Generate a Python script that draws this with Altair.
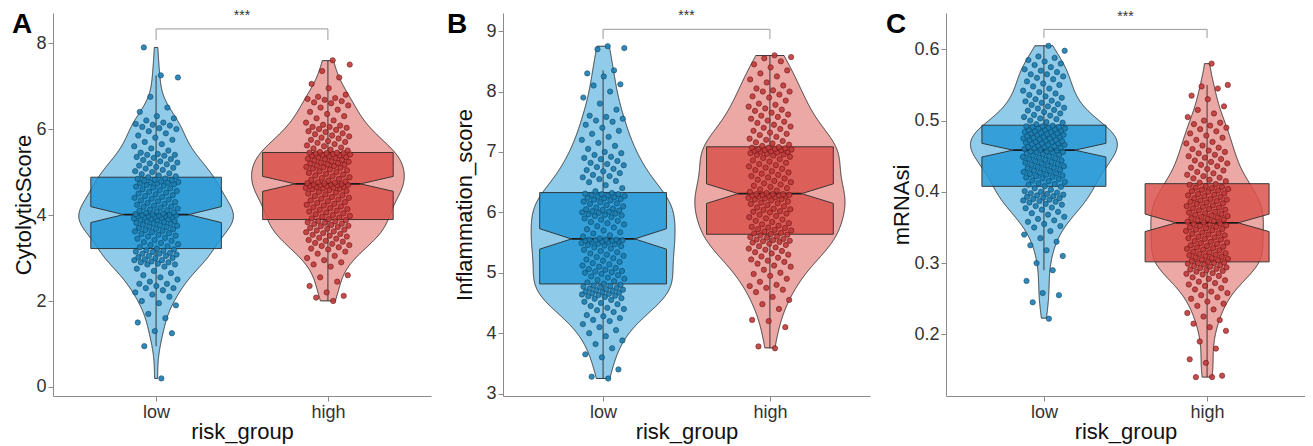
import altair as alt
import pandas as pd
import numpy as np

FONT = "Liberation Sans"
CATEGORIES = ["low", "high"]
CAT_POS = [1, 2]

# ---------- values ----------
A_LOW = [0.2, 0.95, 1.25, 1.3, 1.5, 1.6, 1.7, 1.9, 1.95,
         2.0, 2.1, 2.15, 2.2, 2.25, 2.3, 2.3, 2.35, 2.4, 2.4,
         2.45, 2.5, 2.55, 2.6, 2.65, 2.7, 2.75, 2.8, 2.85, 2.85,
         2.87, 2.9, 2.9, 2.92, 2.95, 2.95, 2.97, 3.0, 3.0, 3.02,
         3.05, 3.05, 3.08, 3.1, 3.1, 3.12, 3.14, 3.15, 3.17, 3.18, 3.2,
         3.22, 3.25, 3.27, 3.3, 3.32, 3.35, 3.37, 3.4, 3.42, 3.45,
         3.47, 3.5, 3.52, 3.54, 3.56, 3.58, 3.6, 3.62, 3.63, 3.65,
         3.67, 3.68, 3.7, 3.72, 3.73, 3.75, 3.76, 3.78, 3.8, 3.81,
         3.82, 3.84, 3.85, 3.86, 3.88, 3.89, 3.9, 3.91, 3.92, 3.93,
         3.94, 3.95, 3.96, 3.97, 3.98, 3.98, 3.99, 3.99, 4.0, 4.0,
         4.01, 4.02, 4.03, 4.05, 4.06, 4.08, 4.1, 4.11, 4.13, 4.15,
         4.17, 4.19, 4.2, 4.22, 4.24, 4.26, 4.28, 4.3, 4.32, 4.34,
         4.36, 4.38, 4.4, 4.42, 4.44, 4.46, 4.48, 4.5, 4.52, 4.54,
         4.56, 4.58, 4.6, 4.62, 4.64, 4.66, 4.68, 4.7, 4.72, 4.73,
         4.74, 4.75, 4.76, 4.77, 4.78, 4.8, 4.81, 4.82, 4.84, 4.85,
         4.88, 4.9, 4.92, 4.95, 4.97, 5.0, 5.02, 5.05, 5.08, 5.1,
         5.12, 5.15, 5.18, 5.2, 5.22, 5.25, 5.28, 5.3, 5.33, 5.35,
         5.38, 5.4, 5.4, 5.42, 5.45, 5.5, 5.55, 5.6, 5.65, 5.7,
         5.75, 5.8, 5.85, 5.9, 5.95, 6.0, 6.02, 6.05, 6.08, 6.1,
         6.12, 6.15, 6.2, 6.25, 6.3, 6.4, 6.5, 6.75, 7.2, 7.25, 7.9]

A_HIGH = [2.0, 2.08, 2.12, 2.2, 2.35, 2.45, 2.55, 2.6, 2.8, 2.85,
          2.9, 2.95, 3.0, 3.05, 3.1, 3.15, 3.2, 3.22, 3.25, 3.28,
          3.3, 3.33, 3.35, 3.38, 3.4, 3.42, 3.45, 3.47, 3.5, 3.52,
          3.54, 3.56, 3.58, 3.6, 3.62, 3.64, 3.66, 3.68, 3.7, 3.72,
          3.74, 3.75, 3.77, 3.79, 3.8, 3.82, 3.83, 3.85, 3.86, 3.88,
          3.9, 3.92, 3.94, 3.96, 3.98, 4.0, 4.02, 4.04, 4.06, 4.08,
          4.1, 4.12, 4.14, 4.16, 4.18, 4.2, 4.22, 4.24, 4.26, 4.28,
          4.3, 4.32, 4.34, 4.36, 4.38, 4.4, 4.42, 4.44, 4.46, 4.48,
          4.5, 4.52, 4.54, 4.56, 4.58, 4.6, 4.61, 4.62, 4.63, 4.64,
          4.65, 4.66, 4.67, 4.68, 4.69, 4.7, 4.7, 4.71, 4.71, 4.72,
          4.73, 4.74, 4.75, 4.76, 4.78, 4.8, 4.82, 4.84, 4.86, 4.88,
          4.9, 4.92, 4.94, 4.96, 4.98, 5.0, 5.02, 5.04, 5.06, 5.08,
          5.1, 5.11, 5.12, 5.14, 5.15, 5.17, 5.18, 5.2, 5.21, 5.22,
          5.24, 5.25, 5.27, 5.28, 5.3, 5.31, 5.33, 5.34, 5.35, 5.37,
          5.38, 5.39, 5.4, 5.41, 5.42, 5.43, 5.44, 5.44, 5.45, 5.45,
          5.47, 5.5, 5.52, 5.55, 5.57, 5.6, 5.62, 5.65, 5.68, 5.7,
          5.72, 5.75, 5.78, 5.8, 5.83, 5.85, 5.88, 5.9, 5.93, 5.95,
          5.98, 6.0, 6.03, 6.05, 6.05, 6.08, 6.1, 6.15, 6.2, 6.25,
          6.3, 6.35, 6.4, 6.45, 6.5, 6.55, 6.6, 6.62, 6.65, 6.68,
          6.7, 6.72, 6.75, 6.8, 6.95, 7.05, 7.2, 7.35, 7.5, 7.6]

B_LOW = [3.25, 3.28, 3.4, 3.6, 3.65, 3.75, 3.82, 3.88, 3.95, 4.0,
         4.05, 4.1, 4.15, 4.2, 4.22, 4.25, 4.28, 4.3, 4.35, 4.38,
         4.4, 4.42, 4.45, 4.48, 4.5, 4.52, 4.55, 4.57, 4.58, 4.6,
         4.61, 4.62, 4.63, 4.64, 4.65, 4.66, 4.67, 4.68, 4.69, 4.7,
         4.71, 4.72, 4.73, 4.74, 4.75, 4.76, 4.77, 4.78, 4.79, 4.8,
         4.82, 4.84, 4.86, 4.88, 4.9, 4.92, 4.94, 4.96, 4.98, 5.0,
         5.01, 5.02, 5.03, 5.05, 5.06, 5.08, 5.1, 5.12, 5.14, 5.16,
         5.18, 5.2, 5.22, 5.24, 5.26, 5.28, 5.3, 5.32, 5.34, 5.36,
         5.38, 5.4, 5.42, 5.44, 5.45, 5.46, 5.47, 5.48, 5.49, 5.5,
         5.51, 5.52, 5.52, 5.53, 5.53, 5.54, 5.54, 5.55, 5.55, 5.55,
         5.57, 5.6, 5.62, 5.65, 5.67, 5.7, 5.72, 5.75, 5.77, 5.8,
         5.82, 5.84, 5.86, 5.88, 5.9, 5.92, 5.94, 5.95, 5.96, 5.97,
         5.98, 5.99, 6.0, 6.01, 6.02, 6.03, 6.04, 6.05, 6.06, 6.08,
         6.1, 6.12, 6.14, 6.15, 6.17, 6.18, 6.2, 6.21, 6.22, 6.23,
         6.24, 6.25, 6.26, 6.27, 6.28, 6.29, 6.3, 6.3, 6.31, 6.32,
         6.35, 6.4, 6.45, 6.5, 6.52, 6.55, 6.58, 6.6, 6.62, 6.65,
         6.68, 6.7, 6.72, 6.75, 6.78, 6.8, 6.82, 6.85, 6.88, 6.9,
         6.92, 6.95, 6.98, 7.0, 7.05, 7.1, 7.15, 7.2, 7.25, 7.3,
         7.35, 7.4, 7.45, 7.5, 7.52, 7.55, 7.58, 7.6, 7.7, 7.8,
         7.9, 8.0, 8.1, 8.12, 8.25, 8.3, 8.35, 8.7, 8.72, 8.75]

B_HIGH = [3.75, 3.78, 4.1, 4.2, 4.22, 4.4, 4.48, 4.55, 4.6, 4.68,
          4.72, 4.75, 4.78, 4.8, 4.85, 4.9, 4.95, 4.98, 5.0, 5.05,
          5.1, 5.12, 5.15, 5.18, 5.2, 5.22, 5.25, 5.27, 5.3, 5.32,
          5.34, 5.36, 5.38, 5.4, 5.42, 5.44, 5.46, 5.48, 5.5, 5.51,
          5.52, 5.53, 5.54, 5.55, 5.56, 5.58, 5.59, 5.6, 5.62, 5.63,
          5.64, 5.65, 5.66, 5.68, 5.7, 5.71, 5.72, 5.74, 5.75, 5.76,
          5.78, 5.8, 5.82, 5.84, 5.86, 5.88, 5.9, 5.92, 5.94, 5.96,
          5.98, 6.0, 6.01, 6.02, 6.04, 6.05, 6.06, 6.08, 6.1, 6.12,
          6.14, 6.15, 6.16, 6.18, 6.2, 6.21, 6.22, 6.23, 6.24, 6.25,
          6.26, 6.27, 6.27, 6.28, 6.28, 6.29, 6.29, 6.3, 6.3, 6.3,
          6.32, 6.34, 6.36, 6.38, 6.4, 6.42, 6.44, 6.46, 6.48, 6.5,
          6.52, 6.54, 6.56, 6.58, 6.6, 6.62, 6.64, 6.66, 6.68, 6.7,
          6.72, 6.74, 6.76, 6.78, 6.8, 6.82, 6.84, 6.86, 6.88, 6.9,
          6.92, 6.94, 6.95, 6.96, 6.97, 6.98, 6.99, 7.0, 7.0, 7.01,
          7.02, 7.03, 7.03, 7.04, 7.05, 7.05, 7.06, 7.07, 7.07, 7.08,
          7.1, 7.12, 7.14, 7.16, 7.18, 7.2, 7.22, 7.25, 7.28, 7.3,
          7.32, 7.35, 7.38, 7.4, 7.42, 7.45, 7.48, 7.5, 7.52, 7.55,
          7.58, 7.6, 7.62, 7.65, 7.68, 7.7, 7.72, 7.75, 7.78, 7.8,
          7.85, 7.9, 7.92, 7.95, 8.0, 8.0, 8.02, 8.05, 8.1, 8.15,
          8.2, 8.25, 8.3, 8.35, 8.4, 8.45, 8.5, 8.55, 8.57, 8.6]

C_LOW = [0.222, 0.245, 0.255, 0.258, 0.275, 0.29, 0.3, 0.31, 0.318, 0.325,
         0.33, 0.335, 0.34, 0.345, 0.35, 0.352, 0.355, 0.358, 0.36, 0.362,
         0.365, 0.368, 0.37, 0.372, 0.375, 0.377, 0.378, 0.38, 0.382, 0.383,
         0.385, 0.386, 0.387, 0.388, 0.389, 0.39, 0.391, 0.392, 0.393, 0.394,
         0.395, 0.396, 0.397, 0.398, 0.399, 0.4, 0.401, 0.403, 0.405, 0.407,
         0.408, 0.41, 0.411, 0.412, 0.414, 0.415, 0.416, 0.418, 0.419, 0.42,
         0.421, 0.422, 0.423, 0.424, 0.425, 0.426, 0.427, 0.428, 0.429, 0.43,
         0.431, 0.432, 0.433, 0.434, 0.435, 0.436, 0.437, 0.438, 0.439, 0.44,
         0.441, 0.442, 0.443, 0.444, 0.445, 0.446, 0.447, 0.448, 0.449, 0.45,
         0.451, 0.452, 0.453, 0.454, 0.455, 0.456, 0.456, 0.457, 0.457, 0.458,
         0.459, 0.46, 0.46, 0.461, 0.462, 0.463, 0.463, 0.464, 0.465, 0.466,
         0.466, 0.467, 0.468, 0.468, 0.469, 0.47, 0.47, 0.471, 0.472, 0.473,
         0.473, 0.474, 0.475, 0.475, 0.476, 0.477, 0.477, 0.478, 0.479, 0.48,
         0.48, 0.481, 0.482, 0.482, 0.483, 0.484, 0.484, 0.485, 0.486, 0.487,
         0.487, 0.488, 0.489, 0.489, 0.49, 0.491, 0.491, 0.492, 0.492, 0.493,
         0.495, 0.497, 0.498, 0.5, 0.502, 0.503, 0.505, 0.507, 0.508, 0.51,
         0.512, 0.514, 0.515, 0.517, 0.518, 0.52, 0.522, 0.523, 0.525, 0.527,
         0.528, 0.53, 0.532, 0.534, 0.536, 0.538, 0.54, 0.542, 0.545, 0.548,
         0.55, 0.552, 0.555, 0.558, 0.56, 0.562, 0.565, 0.565, 0.568, 0.57,
         0.572, 0.575, 0.578, 0.58, 0.583, 0.585, 0.588, 0.59, 0.598, 0.605]

C_HIGH = [0.14, 0.14, 0.142, 0.16, 0.165, 0.18, 0.19, 0.205, 0.21, 0.215,
          0.22, 0.225, 0.23, 0.235, 0.24, 0.243, 0.246, 0.25, 0.252, 0.255,
          0.258, 0.26, 0.263, 0.265, 0.268, 0.27, 0.272, 0.274, 0.276, 0.278,
          0.28, 0.282, 0.284, 0.285, 0.286, 0.288, 0.289, 0.29, 0.291, 0.292,
          0.293, 0.294, 0.295, 0.296, 0.297, 0.298, 0.299, 0.3, 0.3, 0.301,
          0.302, 0.303, 0.304, 0.305, 0.306, 0.307, 0.308, 0.309, 0.31, 0.311,
          0.312, 0.313, 0.314, 0.315, 0.316, 0.318, 0.319, 0.32, 0.321, 0.322,
          0.323, 0.324, 0.325, 0.327, 0.328, 0.329, 0.33, 0.331, 0.333, 0.334,
          0.335, 0.336, 0.337, 0.339, 0.34, 0.341, 0.342, 0.343, 0.345, 0.346,
          0.347, 0.348, 0.349, 0.35, 0.351, 0.352, 0.353, 0.354, 0.355, 0.356,
          0.357, 0.358, 0.359, 0.36, 0.361, 0.362, 0.363, 0.364, 0.365, 0.366,
          0.367, 0.368, 0.369, 0.37, 0.371, 0.372, 0.374, 0.375, 0.376, 0.377,
          0.378, 0.379, 0.38, 0.381, 0.383, 0.384, 0.385, 0.386, 0.387, 0.388,
          0.389, 0.39, 0.391, 0.393, 0.394, 0.395, 0.396, 0.397, 0.398, 0.4,
          0.401, 0.402, 0.403, 0.404, 0.405, 0.406, 0.407, 0.408, 0.41, 0.411,
          0.413, 0.415, 0.417, 0.419, 0.42, 0.422, 0.424, 0.426, 0.428, 0.43,
          0.432, 0.434, 0.436, 0.438, 0.44, 0.442, 0.444, 0.446, 0.448, 0.45,
          0.452, 0.454, 0.456, 0.458, 0.46, 0.462, 0.465, 0.468, 0.47, 0.473,
          0.476, 0.479, 0.482, 0.485, 0.488, 0.49, 0.493, 0.495, 0.497, 0.5,
          0.505, 0.51, 0.515, 0.52, 0.53, 0.535, 0.545, 0.548, 0.55, 0.58]

# axis ranges / ticks / significance annotations
Y_TITLES = ["CytolyticScore", "Inflammation_score", "mRNAsi"]
LETTERS = ["A", "B", "C"]
Y_DOMAINS = [[-0.21, 8.7], [2.96, 9.3], [0.1135, 0.651]]
Y_TICKS = [[0, 2, 4, 6, 8], [3, 4, 5, 6, 7, 8, 9], [0.2, 0.3, 0.4, 0.5, 0.6]]
Y_FORMATS = ["d", "d", ".1f"]
BRACKETS = [[8.07, 8.33], [8.87, 9.03], [0.616, 0.628]]
STARS_Y = [8.62, 9.25, 0.645]
SIG_LABEL = "***"

# style
BLUE = "#2398D6"
RED = "#DA524C"
PT_FILL = ["#1B7DB2", "#C13A3A"]
PT_STROKE = ["#0D4866", "#6B1616"]
OUTLINE = "#2b2b2b"
AXIS_GRAY = "#8a8a8a"
PANEL_W = [378, 367, 359]
PANEL_H = 383
TITLE_PAD = [0, 9, 0]
LETTER_DX = [-41, -56, -60]


def nrd0(v):
    v = np.asarray(v, dtype=float)
    sd = v.std(ddof=1)
    q75, q25 = np.percentile(v, [75, 25])
    return 0.9 * min(sd, (q75 - q25) / 1.34) * len(v) ** -0.2


def panel(i, low, high):
    df = pd.DataFrame({
        "group": [CATEGORIES[0]] * len(low) + [CATEGORIES[1]] * len(high),
        "pos": [CAT_POS[0]] * len(low) + [CAT_POS[1]] * len(high),
        "value": low + high,
    })
    bw = float(np.mean([nrd0(low), nrd0(high)]))

    xs = alt.Scale(domain=[0.4, 2.6], nice=False, zero=False)
    ys = alt.Scale(domain=Y_DOMAINS[i], nice=False, zero=False)
    xaxis = alt.Axis(values=CAT_POS,
                     labelExpr="datum.value == 1 ? 'low' : 'high'",
                     title="risk_group", grid=False, titlePadding=0)
    yaxis = alt.Axis(values=Y_TICKS[i], format=Y_FORMATS[i], title=Y_TITLES[i],
                     grid=False, titlePadding=TITLE_PAD[i])

    def X(f):
        return alt.X(f, scale=xs, axis=xaxis, title="risk_group")

    def Y(f):
        return alt.Y(f, scale=ys, axis=yaxis, title=Y_TITLES[i])

    color = alt.Color("group:N", scale=alt.Scale(domain=CATEGORIES, range=[BLUE, RED]), legend=None)
    base = alt.Chart(df)

    # violin: density per group, trimmed to each group's own data range
    violin = base.transform_joinaggregate(
        vmin="min(value)", vmax="max(value)", groupby=["group"]
    ).transform_density(
        "value", groupby=["group", "pos", "vmin", "vmax"], bandwidth=bw, steps=500,
        as_=["value", "density"]
    ).transform_filter(
        "datum.value >= datum.vmin && datum.value <= datum.vmax"
    ).transform_joinaggregate(
        dmax="max(density)"
    ).transform_calculate(
        xl="datum.pos - 0.45 * datum.density / datum.dmax",
        xr="datum.pos + 0.45 * datum.density / datum.dmax",
    ).mark_area(orient="horizontal", fillOpacity=0.5, stroke=OUTLINE, strokeWidth=0.9).encode(
        y=Y("value:Q"), x=X("xl:Q"), x2="xr:Q", color=color, detail="group:N"
    )

    stats = base.transform_joinaggregate(
        q1="q1(value)", q3="q3(value)", med="median(value)", n="count()", groupby=["group", "pos"]
    ).transform_calculate(
        iqr="datum.q3 - datum.q1"
    ).transform_filter(
        "datum.value >= datum.q1 - 1.5 * datum.iqr && datum.value <= datum.q3 + 1.5 * datum.iqr"
    ).transform_aggregate(
        wlo="min(value)", whi="max(value)", q1="min(q1)", q3="min(q3)", med="min(med)", n="min(n)",
        groupby=["group", "pos"]
    ).transform_calculate(
        nlo="datum.med - 1.58 * (datum.q3 - datum.q1) / sqrt(datum.n)",
        nhi="datum.med + 1.58 * (datum.q3 - datum.q1) / sqrt(datum.n)",
        ml="datum.pos - 0.19",
        mr="datum.pos + 0.19",
    )

    whisker = stats.mark_rule(stroke=OUTLINE, strokeWidth=0.9).encode(
        x=X("pos:Q"), y=Y("wlo:Q"), y2="whi:Q"
    )

    box = stats.transform_fold(
        ["q1", "nlo", "med", "nhi", "q3"], as_=["k", "yy"]
    ).transform_calculate(
        hw="datum.k == 'med' ? 0.19 : 0.38",
        bl="datum.pos - datum.hw",
        br="datum.pos + datum.hw",
    ).mark_area(orient="horizontal", fillOpacity=0.85, stroke=OUTLINE, strokeWidth=0.9).encode(
        y=Y("yy:Q"), x=X("bl:Q"), x2="br:Q", color=color, detail="group:N"
    )

    median = stats.mark_rule(stroke="#1a1a1a", strokeWidth=1.8).encode(
        x=X("ml:Q"), x2="mr:Q", y=Y("med:Q")
    )

    points = base.transform_window(
        idx="row_number()", groupby=["group"]
    ).transform_calculate(
        xj="datum.pos + ((datum.idx * 0.618034) % 1 - 0.5) * 0.26"
    ).mark_circle(size=28, strokeWidth=0.7, opacity=0.9).encode(
        x=X("xj:Q"), y=Y("value:Q"),
        fill=alt.Fill("group:N", scale=alt.Scale(domain=CATEGORIES, range=PT_FILL), legend=None),
        stroke=alt.Stroke("group:N", scale=alt.Scale(domain=CATEGORIES, range=PT_STROKE), legend=None),
    )

    lo, hi = BRACKETS[i]
    bdf = pd.DataFrame({"bx": [1, 1, 2, 2], "by": [lo, hi, hi, lo], "o": [0, 1, 2, 3]})
    bracket = alt.Chart(bdf).mark_line(color="#9a9a9a", strokeWidth=1).encode(
        x=X("bx:Q"), y=Y("by:Q"), order="o:Q"
    )
    sdf = pd.DataFrame({"sx": [1.5], "sy": [STARS_Y[i]], "t": [SIG_LABEL]})
    stars = alt.Chart(sdf).mark_text(font=FONT, fontSize=14, color="#333333").encode(
        x=X("sx:Q"), y=Y("sy:Q"), text="t:N"
    )
    ldf = pd.DataFrame({"t": [LETTERS[i]]})
    letter = alt.Chart(ldf).mark_text(
        font=FONT, fontSize=28, fontWeight="bold", align="left", baseline="top", color="black"
    ).encode(x=alt.value(LETTER_DX[i]), y=alt.value(-2), text="t:N")

    return alt.layer(violin, whisker, box, median, points, bracket, stars, letter).properties(
        width=PANEL_W[i], height=PANEL_H
    )


chart = alt.hconcat(
    panel(0, A_LOW, A_HIGH),
    panel(1, B_LOW, B_HIGH),
    panel(2, C_LOW, C_HIGH),
    spacing=16,
).properties(
    padding={"left": 4, "top": 1, "right": 0, "bottom": 6}
).configure_view(stroke=None).configure_axis(
    labelFont=FONT, titleFont=FONT, labelFontSize=18, titleFontSize=22,
    labelColor="#333333", titleColor="#111111", titleFontWeight="normal",
    domainColor=AXIS_GRAY, tickColor=AXIS_GRAY, tickSize=5, labelPadding=2, grid=False,
)

chart.save("out.html", embed_options={"renderer": "svg", "actions": False})
